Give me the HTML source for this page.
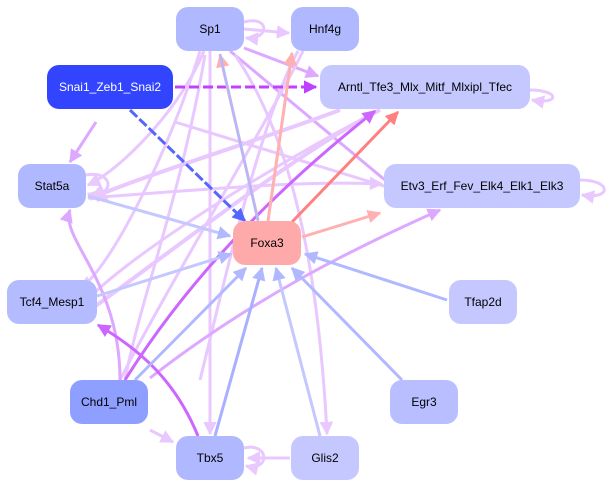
<!DOCTYPE html>
<html><head><meta charset="utf-8"><style>
html,body{margin:0;padding:0;background:#fff;}
svg{display:block;font-family:"Liberation Sans",Arial,sans-serif;}
</style></head><body>
<svg width="613" height="489" viewBox="0 0 613 489" xmlns="http://www.w3.org/2000/svg">
<defs>
<marker id="mL" viewBox="0 0 10 10" refX="9" refY="5" markerWidth="4.5" markerHeight="4.5" orient="auto"><path d="M0,0L10,5L0,10z" fill="#e8c8ff"/></marker>
<marker id="mP" viewBox="0 0 10 10" refX="9" refY="5" markerWidth="4.5" markerHeight="4.5" orient="auto"><path d="M0,0L10,5L0,10z" fill="#dda8ff"/></marker>
<marker id="mV" viewBox="0 0 10 10" refX="9" refY="5" markerWidth="4.5" markerHeight="4.5" orient="auto"><path d="M0,0L10,5L0,10z" fill="#c040ff"/></marker>
<marker id="mM" viewBox="0 0 10 10" refX="9" refY="5" markerWidth="4.5" markerHeight="4.5" orient="auto"><path d="M0,0L10,5L0,10z" fill="#cc66ff"/></marker>
<marker id="mB" viewBox="0 0 10 10" refX="9" refY="5" markerWidth="4.5" markerHeight="4.5" orient="auto"><path d="M0,0L10,5L0,10z" fill="#5566ff"/></marker>
<marker id="mLB" viewBox="0 0 10 10" refX="9" refY="5" markerWidth="4.5" markerHeight="4.5" orient="auto"><path d="M0,0L10,5L0,10z" fill="#b0b8ff"/></marker>
<marker id="mR" viewBox="0 0 10 10" refX="9" refY="5" markerWidth="4.5" markerHeight="4.5" orient="auto"><path d="M0,0L10,5L0,10z" fill="#ff8080"/></marker>
<marker id="mPk" viewBox="0 0 10 10" refX="9" refY="5" markerWidth="4.5" markerHeight="4.5" orient="auto"><path d="M0,0L10,5L0,10z" fill="#ffb0b0"/></marker>
</defs>
<g fill="none" stroke-width="3">
<path d="M244,22 C270,15 270,40 246,38" stroke="#e8c8ff" marker-end="url(#mL)"/>
<path d="M244,29 L289,33" stroke="#e8c8ff" marker-end="url(#mL)"/>
<path d="M244,48 L318,76" stroke="#dda8ff" marker-end="url(#mP)"/>
<path d="M230,51 L397,190" stroke="#dda8ff" marker-end="url(#mP)"/>
<path d="M204,51 C180,110 120,170 88,185" stroke="#e8c8ff" marker-end="url(#mL)"/>
<path d="M210,51 L210,434" stroke="#e8c8ff" marker-end="url(#mL)"/>
<path d="M200,51 C170,150 110,270 80,288" stroke="#e8c8ff" marker-end="url(#mL)"/>
<path d="M235,55 C300,150 320,300 327,434" stroke="#e8c8ff" marker-end="url(#mL)"/>
<path d="M303,51 C280,100 160,300 120,380" stroke="#e8c8ff"/>
<path d="M298,51 C260,120 220,300 200,380" stroke="#e8c8ff"/>
<path d="M530,90 C560,90 560,105 532,100" stroke="#e8c8ff" marker-end="url(#mL)"/>
<path d="M580,180 C612,180 612,200 582,195" stroke="#e8c8ff" marker-end="url(#mL)"/>
<path d="M86,175 C115,170 115,198 88,194" stroke="#e8c8ff" marker-end="url(#mL)"/>
<path d="M175,122 L397,190" stroke="#e8c8ff" marker-end="url(#mL)"/>
<path d="M340,110 C260,140 130,180 90,199" stroke="#e8c8ff" marker-end="url(#mL)" stroke-width="4"/>
<path d="M380,110 C300,150 160,260 90,310" stroke="#e8c8ff" stroke-width="4"/>
<path d="M380,110 C300,150 150,240 92,295" stroke="#e8c8ff" stroke-width="3"/>
<path d="M96,122 L70,162" stroke="#dda8ff" marker-end="url(#mP)"/>
<path d="M120,380 C120,280 60,240 70,210" stroke="#dda8ff" marker-end="url(#mP)"/>
<path d="M150,378 C250,300 350,250 440,210" stroke="#dda8ff" marker-end="url(#mP)"/>
<path d="M150,430 L173,442" stroke="#e8c8ff" marker-end="url(#mL)"/>
<path d="M290,458 L248,458" stroke="#e8c8ff" marker-end="url(#mL)"/>
<path d="M244,448 C270,442 270,472 246,466" stroke="#e8c8ff" marker-end="url(#mL)"/>
<path d="M88,198 C200,190 300,180 382,184" stroke="#e8c8ff" marker-end="url(#mL)"/>
<path d="M125,380 C140,300 180,200 205,55" stroke="#e8c8ff"/>
<path d="M175,87 L316,87" stroke="#c040ff" stroke-dasharray="10,4" marker-end="url(#mV)"/>
<path d="M130,110 L245,221" stroke="#5566ff" stroke-dasharray="10,3" marker-end="url(#mB)"/>
<path d="M125,380 C200,260 300,170 375,111" stroke="#cc66ff" marker-end="url(#mM)"/>
<path d="M198,436 C175,380 140,350 98,325" stroke="#cc66ff" marker-end="url(#mM)"/>
<path d="M292,222 L398,112" stroke="#ff8080" marker-end="url(#mR)"/>
<path d="M302,237 L380,213" stroke="#ffb0b0" marker-end="url(#mPk)"/>
<path d="M268,221 L292,53" stroke="#ffb0b0" marker-end="url(#mPk)"/>
<path d="M258,220 L220,55" stroke="#ffb0b0" marker-end="url(#mPk)"/>
<path d="M258,221 L220,54" stroke="#b0b8ff" stroke-width="2.5"/>
<path d="M88,196 L230,236" stroke="#c4c8ff" marker-end="url(#mLB)"/>
<path d="M97,296 L231,254" stroke="#c4c8ff" marker-end="url(#mLB)"/>
<path d="M447,300 L305,254" stroke="#b0b8ff" marker-end="url(#mLB)"/>
<path d="M135,380 L246,268" stroke="#b0b8ff" marker-end="url(#mLB)"/>
<path d="M215,436 L262,268" stroke="#a8b0ff" marker-end="url(#mLB)"/>
<path d="M320,436 L276,268" stroke="#c4c8ff" marker-end="url(#mLB)"/>
<path d="M402,380 L292,268" stroke="#b0b8ff" marker-end="url(#mLB)"/>
</g>
<g font-size="12" text-anchor="middle">
<rect x="176" y="7" width="68" height="44" rx="12" fill="#b0b8ff"/><text x="210" y="33">Sp1</text>
<rect x="291" y="7" width="68" height="44" rx="12" fill="#b0b8ff"/><text x="325" y="33">Hnf4g</text>
<rect x="47" y="65" width="126" height="44" rx="12" fill="#3344ff"/><text x="110" y="91" fill="#fff">Snai1_Zeb1_Snai2</text>
<rect x="320" y="65" width="210" height="44" rx="12" fill="#c4c8ff"/><text x="425" y="91">Arntl_Tfe3_Mlx_Mitf_Mlxipl_Tfec</text>
<rect x="18" y="164" width="68" height="44" rx="12" fill="#b0b8ff"/><text x="52" y="190">Stat5a</text>
<rect x="384" y="164" width="196" height="44" rx="12" fill="#c4c8ff"/><text x="482" y="190">Etv3_Erf_Fev_Elk4_Elk1_Elk3</text>
<rect x="233" y="221" width="68" height="44" rx="12" fill="#ffaaaa"/><text x="267" y="247">Foxa3</text>
<rect x="7" y="280" width="90" height="44" rx="12" fill="#b4bcff"/><text x="52" y="306">Tcf4_Mesp1</text>
<rect x="449" y="280" width="68" height="44" rx="12" fill="#c4c8ff"/><text x="483" y="306">Tfap2d</text>
<rect x="70" y="380" width="78" height="44" rx="12" fill="#8f9fff"/><text x="109" y="406">Chd1_Pml</text>
<rect x="390" y="380" width="68" height="44" rx="12" fill="#b8beff"/><text x="424" y="406">Egr3</text>
<rect x="176" y="436" width="68" height="44" rx="12" fill="#b0b8ff"/><text x="210" y="462">Tbx5</text>
<rect x="291" y="436" width="68" height="44" rx="12" fill="#c4c8ff"/><text x="325" y="462">Glis2</text>
</g>
</svg>
</body></html>
